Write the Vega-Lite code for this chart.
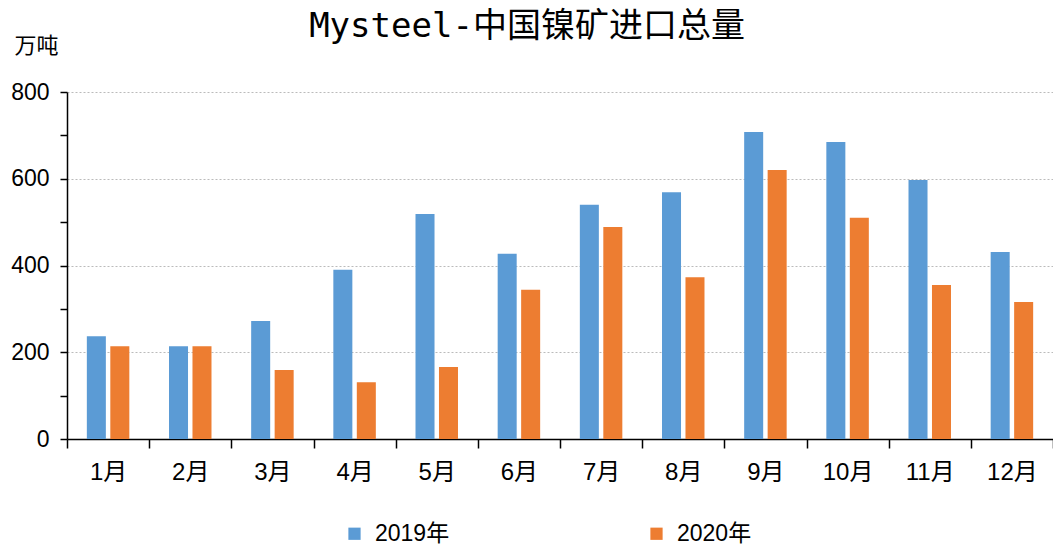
{
  "$schema": "https://vega.github.io/schema/vega-lite/v6.json",
  "width": 986,
  "height": 347,
  "autosize": "none",
  "padding": {"left": 67, "top": 92, "right": 0, "bottom": 106},
  "background": "white",
  "title": {
    "text": "Mysteel-中国镍矿进口总量",
    "font": "DejaVu Sans Mono, Noto Sans CJK SC",
    "fontSize": 34,
    "fontWeight": "normal",
    "color": "#000",
    "anchor": "middle",
    "baseline": "bottom",
    "offset": -44,
    "dx": -33
  },
  "data": {
    "values": [
      {"month": "1月", "year": "2019年", "value": 237},
      {"month": "1月", "year": "2020年", "value": 214},
      {"month": "2月", "year": "2019年", "value": 214},
      {"month": "2月", "year": "2020年", "value": 214},
      {"month": "3月", "year": "2019年", "value": 272},
      {"month": "3月", "year": "2020年", "value": 159},
      {"month": "4月", "year": "2019年", "value": 390},
      {"month": "4月", "year": "2020年", "value": 131},
      {"month": "5月", "year": "2019年", "value": 519},
      {"month": "5月", "year": "2020年", "value": 166},
      {"month": "6月", "year": "2019年", "value": 427},
      {"month": "6月", "year": "2020年", "value": 344},
      {"month": "7月", "year": "2019年", "value": 540},
      {"month": "7月", "year": "2020年", "value": 489},
      {"month": "8月", "year": "2019年", "value": 569},
      {"month": "8月", "year": "2020年", "value": 373},
      {"month": "9月", "year": "2019年", "value": 708},
      {"month": "9月", "year": "2020年", "value": 620},
      {"month": "10月", "year": "2019年", "value": 685},
      {"month": "10月", "year": "2020年", "value": 510},
      {"month": "11月", "year": "2019年", "value": 597},
      {"month": "11月", "year": "2020年", "value": 355},
      {"month": "12月", "year": "2019年", "value": 431},
      {"month": "12月", "year": "2020年", "value": 316}
    ]
  },
  "mark": {"type": "bar"},
  "encoding": {
    "x": {
      "field": "month",
      "type": "nominal",
      "sort": null,
      "scale": {"paddingInner": 0, "paddingOuter": 0},
      "axis": {
        "title": null,
        "labelAngle": 0,
        "labelFont": "Liberation Sans, Noto Sans CJK SC",
        "labelFontSize": 24,
        "labelColor": "#000",
        "labelPadding": 12,
        "domainColor": "#000",
        "domainWidth": 1.5,
        "tickColor": "#000",
        "tickWidth": 1.5,
        "tickSize": 9,
        "tickBand": "extent",
        "grid": false
      }
    },
    "xOffset": {
      "field": "year",
      "type": "nominal",
      "scale": {"paddingInner": 0.19, "paddingOuter": 0.845}
    },
    "y": {
      "field": "value",
      "type": "quantitative",
      "scale": {"domain": [0, 800], "nice": false},
      "axis": {
        "title": "万吨",
        "titleAngle": 0,
        "titleFont": "Noto Sans CJK SC",
        "titleFontSize": 22,
        "titleFontWeight": "normal",
        "titleColor": "#000",
        "titleAlign": "left",
        "titleBaseline": "top",
        "titleX": -53,
        "titleY": -57,
        "values": [0, 100, 200, 300, 400, 500, 600, 700, 800],
        "labelExpr": "datum.value % 200 == 0 ? datum.label : ''",
        "labelFont": "Liberation Sans",
        "labelFontSize": 23,
        "labelColor": "#000",
        "labelPadding": 11,
        "domainColor": "#000",
        "domainWidth": 1.5,
        "tickColor": "#000",
        "tickWidth": 1.5,
        "tickSize": 7,
        "grid": true,
        "gridDash": [2, 2],
        "gridWidth": 1,
        "gridColor": {"condition": {"test": "datum.value % 200 == 0 && datum.value > 0", "value": "#bbbbbb"}, "value": "transparent"}
      }
    },
    "color": {
      "field": "year",
      "type": "nominal",
      "scale": {"domain": ["2019年", "2020年"], "range": ["#5B9BD5", "#ED7D31"]},
      "legend": {
        "title": null,
        "orient": "none",
        "direction": "horizontal",
        "legendX": 276,
        "legendY": 430,
        "symbolType": "square",
        "symbolSize": 150,
        "symbolStrokeWidth": 0,
        "symbolOpacity": 1,
        "labelFont": "Liberation Sans, Noto Sans CJK SC",
        "labelFontSize": 23,
        "labelColor": "#000",
        "labelOffset": 9,
        "columnPadding": 195
      }
    }
  },
  "config": {"view": {"stroke": null}}
}
